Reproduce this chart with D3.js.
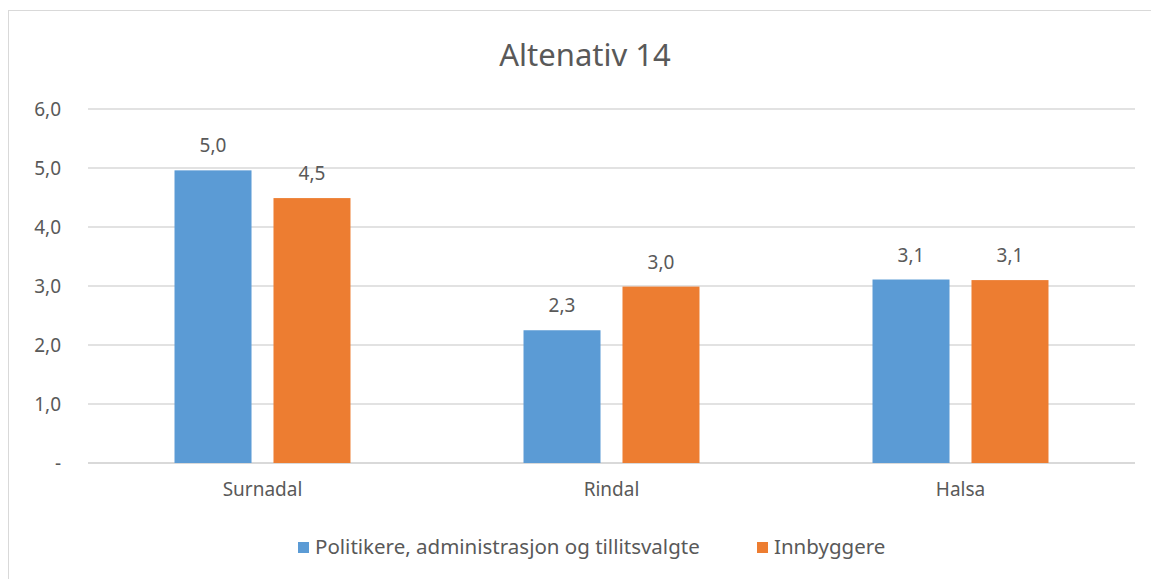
<!DOCTYPE html>
<html>
<head>
<meta charset="utf-8">
<script src="https://cdn.jsdelivr.net/npm/d3@7"></script>
<style>
  body { margin: 0; background: #fff; }
  text { font-family: "Noto Sans", "Open Sans", sans-serif; fill: #595959; }
</style>
</head>
<body>
<div id="chart"></div>
<script>
"use strict";

var title = "Altenativ 14";
var categories = ["Surnadal", "Rindal", "Halsa"];
var seriesNames = ["Politikere, administrasjon og tillitsvalgte", "Innbyggere"];
var politikere = [4.96, 2.25, 3.11];
var innbyggere = [4.49, 2.99, 3.10];
var yTicks = [0, 1, 2, 3, 4, 5, 6];
var colors = ["#5B9BD5", "#ED7D31"];

var W = 1151, H = 579;
var margin = {top: 109, right: 16, bottom: 116, left: 88},
    width = W - margin.left - margin.right,
    height = H - margin.top - margin.bottom;

var svg = d3.select("#chart").append("svg")
  .attr("width", W)
  .attr("height", H);

// chart frame
svg.append("rect")
  .attr("x", 8.5).attr("y", 10.5)
  .attr("width", W + 20).attr("height", H + 20)
  .attr("fill", "none").attr("stroke", "#d9d9d9");

svg.append("text")
  .attr("x", 585).attr("y", 66)
  .attr("text-anchor", "middle")
  .style("font-size", "31px")
  .text(title);

var g = svg.append("g")
  .attr("transform", "translate(" + margin.left + "," + margin.top + ")");

var x0 = d3.scaleBand().domain(categories).range([0, width]).padding(0);
var x1 = d3.scaleBand().domain(seriesNames).range([0, x0.bandwidth()])
  .paddingInner(0.222).paddingOuter(0.874);
var y = d3.scaleLinear().domain([0, 6]).range([height, 0]);

var fmt = function(v) { return v === 0 ? "-" : d3.format(".1f")(v).replace(".", ","); };

// gridlines
g.append("g").selectAll("line")
  .data(yTicks)
  .join("line")
  .attr("x1", 0).attr("x2", width)
  .attr("y1", function(d) { return y(d); })
  .attr("y2", function(d) { return y(d); })
  .attr("stroke", "#d9d9d9")
  .attr("stroke-width", function(d) { return d === 0 ? 2 : 1.3; });

// y axis
var yAxis = d3.axisLeft(y).tickValues(yTicks).tickSize(0).tickPadding(27).tickFormat(fmt);
g.append("g").call(yAxis)
  .call(function(s) { s.select(".domain").remove(); })
  .selectAll("text")
  .style("font-size", "19px")
  .attr("fill", "#595959");

// x axis
var xAxis = d3.axisBottom(x0).tickSize(0).tickPadding(20);
g.append("g")
  .attr("transform", "translate(0," + height + ")")
  .call(xAxis)
  .call(function(s) { s.select(".domain").remove(); })
  .selectAll("text")
  .style("font-size", "19px")
  .attr("fill", "#595959");

var rows = categories.map(function(c, i) {
  return {cat: c, vals: [politikere[i], innbyggere[i]]};
});

var groups = g.selectAll(".grp")
  .data(rows)
  .join("g")
  .attr("class", "grp")
  .attr("transform", function(d) { return "translate(" + x0(d.cat) + ",0)"; });

groups.selectAll("rect")
  .data(function(d) { return d.vals.map(function(v, j) { return {s: seriesNames[j], v: v, j: j}; }); })
  .join("rect")
  .attr("x", function(d) { return x1(d.s); })
  .attr("width", x1.bandwidth())
  .attr("y", function(d) { return y(d.v); })
  .attr("height", function(d) { return height - y(d.v); })
  .attr("fill", function(d) { return colors[d.j]; });

groups.selectAll(".lbl")
  .data(function(d) { return d.vals.map(function(v, j) { return {s: seriesNames[j], v: v}; }); })
  .join("text")
  .attr("class", "lbl")
  .attr("x", function(d) { return x1(d.s) + x1.bandwidth() / 2; })
  .attr("y", function(d) { return y(d.v) - 18; })
  .attr("text-anchor", "middle")
  .style("font-size", "19px")
  .attr("fill", "#404040")
  .text(function(d) { return fmt(Math.round(d.v * 10 + 1e-9) / 10); });

// legend
var legendX = [298, 757];
var legend = svg.append("g").selectAll("g")
  .data(seriesNames)
  .join("g")
  .attr("transform", function(d, i) { return "translate(" + legendX[i] + ",542)"; });

legend.append("rect")
  .attr("width", 11).attr("height", 11)
  .attr("fill", function(d, i) { return colors[i]; });

legend.append("text")
  .attr("x", 17).attr("y", 12)
  .style("font-size", "20.5px")
  .text(function(d) { return d; });
</script>
</body>
</html>
